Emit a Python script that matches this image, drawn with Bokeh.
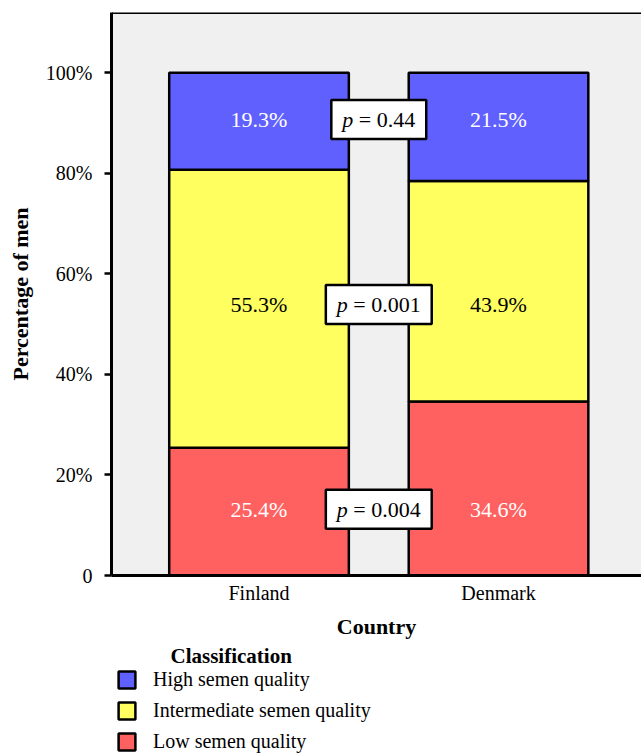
from bokeh.plotting import figure
from bokeh.layouts import column
from bokeh.models import (Range1d, FixedTicker, Legend, LegendItem, Label, Span)
from bokeh.core.properties import value
from bokeh.embed import file_html
from bokeh.resources import INLINE

# ---- data ----
countries = ["Finland", "Denmark"]
x_pos = [1, 2]
low = [25.4, 34.6]
intermediate = [55.3, 43.9]
high = [19.3, 21.5]
classes = ["High semen quality", "Intermediate semen quality", "Low semen quality"]
p_values = ["0.004", "0.001", "0.44"]          # low, intermediate, high rows
y_ticks = [0, 20, 40, 60, 80, 100]
y_tick_labels = ["0", "20%", "40%", "60%", "80%", "100%"]
label_rows = [13.2, 53.9, 90.7]                  # vertical place of the row labels

FONT = "Liberation Serif"
BLUE, YELLOW, RED = "#6060FF", "#FFFF60", "#FF6060"

p = figure(width=641, height=641, x_range=Range1d(0.384, 2.597), y_range=Range1d(0, 112),
           output_backend="svg", toolbar_location=None,
           min_border_left=111, min_border_right=0, min_border_top=12, min_border_bottom=66)
p.background_fill_color = "#F0F0F0"
p.border_fill_color = "white"
p.outline_line_color = None
p.grid.visible = False

lw = 2.5
bw = 0.75
mid_bottom = low
mid_top = [a + b for a, b in zip(low, intermediate)]
high_top = [a + b for a, b in zip(mid_top, high)]

p.vbar(x=x_pos, bottom=0, top=low, width=bw, fill_color=RED, line_color="black", line_width=lw)
p.vbar(x=x_pos, bottom=mid_bottom, top=mid_top, width=bw, fill_color=YELLOW, line_color="black", line_width=lw)
p.vbar(x=x_pos, bottom=mid_top, top=high_top, width=bw, fill_color=BLUE, line_color="black", line_width=lw)

# value labels
tx, ty, tt, tc = [], [], [], []
for row, (vals, col) in enumerate([(low, "white"), (intermediate, "black"), (high, "white")]):
    for xi, v in zip(x_pos, vals):
        tx.append(xi); ty.append(label_rows[row]); tt.append(f"{v:.1f}%"); tc.append(col)
p.text(x=tx, y=ty, text=tt, text_color=tc, text_font=value(FONT), text_font_size="22px",
       text_align="center", text_baseline="middle")

# p-value boxes
cw = {"0": .5, "1": .5, "2": .5, "3": .5, "4": .5, "5": .5, "6": .5, "7": .5, "8": .5, "9": .5,
      ".": .25, "=": .564, " ": .25}
fs = 22
p_w, gap = 11, 5.5
box_w, p_off, r_off, rests = [], [], [], []
for pv in p_values:
    rest = "= " + pv
    rw = sum(cw[c] for c in rest) * fs
    total = p_w + gap + rw
    box_w.append(total + 22)
    p_off.append(-total / 2)
    r_off.append(-total / 2 + p_w + gap)
    rests.append(rest)
xm = [sum(x_pos) / 2] * 3
p.rect(x=xm, y=label_rows, width=box_w, height=39, width_units="screen", height_units="screen",
       fill_color="white", line_color="black", line_width=lw)
p.text(x=xm, y=label_rows, text=["p"] * 3, x_offset=p_off, text_font=value(FONT), text_font_size="22px",
       text_font_style="italic", text_align="left", text_baseline="middle", text_color="black")
p.text(x=xm, y=label_rows, text=rests, x_offset=r_off, text_font=value(FONT), text_font_size="22px",
       text_align="left", text_baseline="middle", text_color="black")

# top border
p.add_layout(Span(location=112, dimension="width", line_color="black", line_width=3))

# axes
p.yaxis.ticker = FixedTicker(ticks=y_ticks)
p.yaxis.major_label_overrides = {t: l for t, l in zip(y_ticks, y_tick_labels)}
p.xaxis.ticker = FixedTicker(ticks=x_pos)
p.xaxis.major_label_overrides = {x: c for x, c in zip(x_pos, countries)}
for ax in (p.xaxis, p.yaxis):
    ax.axis_line_width = 3
    ax.axis_line_color = "black"
    ax.major_label_text_font = FONT
    ax.major_label_text_font_size = "20px"
    ax.major_label_text_color = "black"
    ax.axis_label_text_font = FONT
    ax.axis_label_text_font_style = "bold"
    ax.axis_label_text_font_size = "22px"
    ax.axis_label_text_color = "black"
    ax.minor_tick_in = 0
    ax.minor_tick_out = 0
p.yaxis.axis_label = "Percentage of men"
p.yaxis.major_tick_out = 7
p.yaxis.major_tick_in = 0
p.yaxis.major_tick_line_width = 2.5
p.yaxis.major_label_standoff = 12
p.yaxis.axis_label_standoff = 10
p.xaxis.axis_label = "Country"
p.xaxis.major_tick_out = 0
p.xaxis.major_tick_in = 0
p.xaxis.major_label_standoff = 6
p.xaxis.axis_label_standoff = 7

# ---- legend panel ----
p2 = figure(width=641, height=112, x_range=Range1d(0, 10), y_range=Range1d(0, 10),
            output_backend="svg", toolbar_location=None,
            min_border_left=0, min_border_right=0, min_border_top=0, min_border_bottom=0,
            x_axis_location=None, y_axis_location=None)
p2.outline_line_color = None
p2.grid.visible = False
p2.background_fill_color = "white"
lr = []
for col in (BLUE, YELLOW, RED):
    # legend-only renderers, hidden behind the legend title's white background
    lr.append(p2.vbar(x=[2.25], bottom=[8.3], top=[9.0], width=0.5, fill_color=col,
                      line_color="black", line_width=lw))

p2.add_layout(Label(text="Classification", x=59, y=98, x_units="screen", y_units="screen",
                    text_font=FONT, text_font_size="21px", text_font_style="bold",
                    text_color="black", text_baseline="middle",
                    background_fill_color="white", background_fill_alpha=1.0))
legend = Legend(items=[LegendItem(label=c, renderers=[r]) for c, r in zip(classes, lr)],
                location=(5, 0.5), label_text_font=FONT, label_text_font_size="20px",
                label_text_color="black", glyph_width=21, glyph_height=21, label_height=21,
                spacing=8, label_standoff=16, padding=0, margin=0,
                border_line_color=None, background_fill_alpha=0)
p2.add_layout(legend, "center")

layout = column(p, p2, spacing=0)
open("out.html", "w").write(file_html(layout, INLINE))
